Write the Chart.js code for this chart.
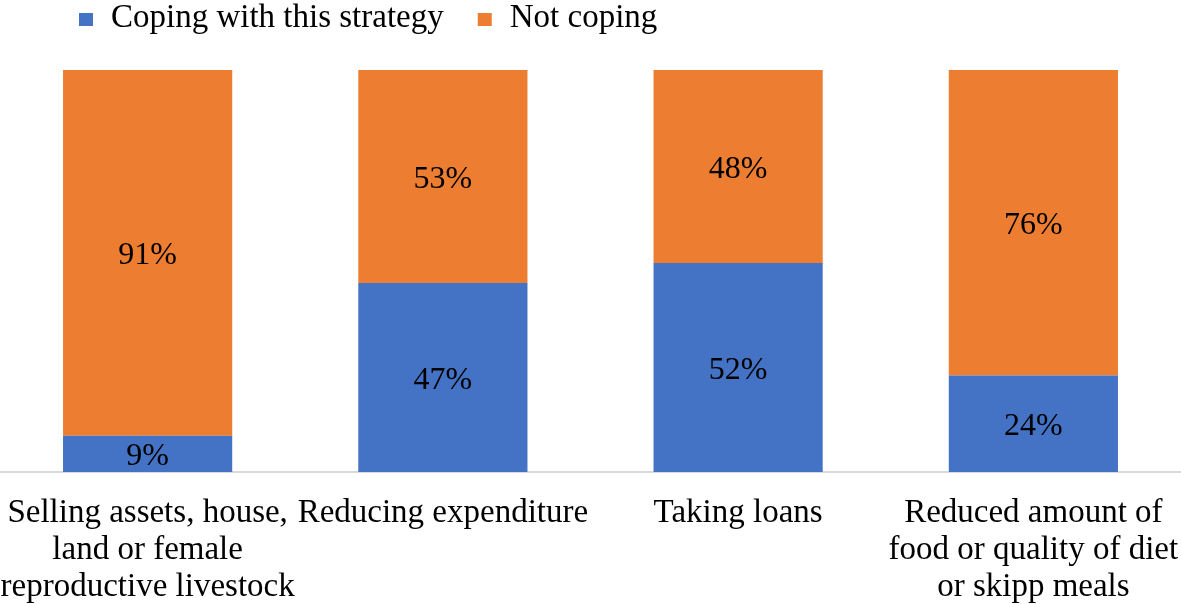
<!DOCTYPE html>
<html lang="en">
<head>
    <meta charset="UTF-8">
    <title>Coping strategies</title>
    <style>
        body {
            margin: 0;
            background-color: white;
        }

        .chart-container {
            position: relative;
            width: 1181px;
            height: 604px;
        }
    </style>
</head>
<body>
    <div class="chart-container">
        <canvas id="barChart"></canvas>
    </div>
    <script src="https://cdn.jsdelivr.net/npm/chart.js"></script>
    <script>
        // Data
        const categories = [
            ['Selling assets, house,', 'land or female', 'reproductive livestock'],
            'Reducing expenditure',
            'Taking loans',
            ['Reduced amount of', 'food or quality of diet', 'or skipp meals']
        ];
        const coping = [9, 47, 52, 24];
        const notCoping = [91, 53, 48, 76];
        const seriesNames = ['Coping with this strategy', 'Not coping'];

        const serif = "'Liberation Serif', 'Times New Roman', serif";

        // Legend drawn in the top-left area
        const topLegend = {
            id: 'topLegend',
            afterDraw(chart) {
                const ctx = chart.ctx;
                ctx.save();
                ctx.font = '33px ' + serif;
                ctx.textBaseline = 'alphabetic';
                let x = 79;
                chart.data.datasets.forEach(ds => {
                    ctx.fillStyle = ds.backgroundColor;
                    ctx.fillRect(x, 13, 14, 13);
                    x += 32;
                    ctx.fillStyle = '#000';
                    ctx.fillText(ds.label, x, 27);
                    x += ctx.measureText(ds.label).width + 34;
                });
                ctx.restore();
            }
        };

        // Percent labels in the middle of each segment
        const valueLabels = {
            id: 'valueLabels',
            afterDatasetsDraw(chart) {
                const ctx = chart.ctx;
                ctx.save();
                ctx.font = '32px ' + serif;
                ctx.fillStyle = '#000';
                ctx.textAlign = 'center';
                ctx.textBaseline = 'middle';
                chart.data.datasets.forEach((ds, i) => {
                    chart.getDatasetMeta(i).data.forEach((bar, j) => {
                        const mid = (bar.y + bar.base) / 2;
                        ctx.fillText(ds.data[j] + '%', bar.x, mid + 3);
                    });
                });
                ctx.restore();
            }
        };

        const ctx = document.getElementById('barChart').getContext('2d');
        const barChart = new Chart(ctx, {
            type: 'bar',
            data: {
                labels: categories,
                datasets: [{
                    label: seriesNames[0],
                    data: coping,
                    backgroundColor: '#4472C4'
                }, {
                    label: seriesNames[1],
                    data: notCoping,
                    backgroundColor: '#ED7D31'
                }]
            },
            options: {
                responsive: true,
                maintainAspectRatio: false,
                animation: false,
                layout: {
                    padding: { top: 70, left: 0, right: 0, bottom: 0 }
                },
                datasets: {
                    bar: {
                        barPercentage: 1,
                        categoryPercentage: 0.573
                    }
                },
                plugins: {
                    legend: { display: false },
                    tooltip: { enabled: false }
                },
                scales: {
                    x: {
                        stacked: true,
                        grid: { display: false, drawTicks: false },
                        border: { display: true, color: '#d9d9d9', width: 2 },
                        ticks: {
                            color: '#000',
                            font: { family: serif, size: 33, lineHeight: 1.12 },
                            padding: 23,
                            maxRotation: 0,
                            autoSkip: false
                        },
                        afterFit(scale) {
                            // keep the plot full width, labels may run to the edges
                            scale.height = 132;
                            scale.paddingLeft = 0;
                            scale.paddingRight = 0;
                        }
                    },
                    y: {
                        stacked: true,
                        display: false,
                        min: 0,
                        max: 100
                    }
                }
            },
            plugins: [topLegend, valueLabels]
        });
    </script>
</body>
</html>
